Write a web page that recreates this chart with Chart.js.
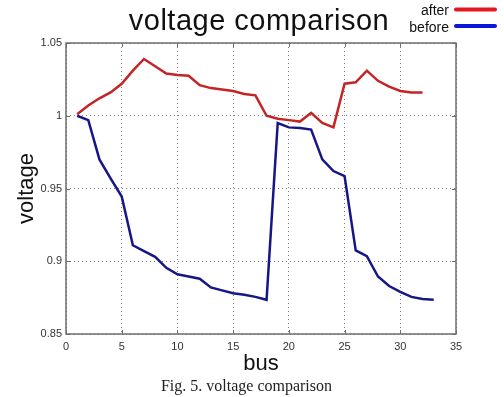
<!DOCTYPE html>
<html>
<head>
<meta charset="utf-8">
<script src="https://cdn.jsdelivr.net/npm/chart.js@4.4.0/dist/chart.umd.min.js"></script>
<style>
  body { margin: 0; background: #fff; }
  canvas { display: block; }
</style>
</head>
<body>
<canvas id="chart" width="504" height="397"></canvas>
<script>
// bus numbers and voltages
var busNumbers = [1, 2, 3, 4, 5, 6, 7, 8, 9, 10, 11, 12, 13, 14, 15, 16, 17,
  18, 19, 20, 21, 22, 23, 24, 25, 26, 27, 28, 29, 30, 31, 32, 33];
var voltageAfter = [1.001, 1.007, 1.012, 1.016, 1.022, 1.031, 1.039, 1.034,
  1.029, 1.028, 1.0275, 1.021, 1.019, 1.018, 1.017, 1.015, 1.014, 1.000,
  0.998, 0.997, 0.996, 1.002, 0.995, 0.992, 1.022, 1.023, 1.031, 1.024,
  1.020, 1.017, 1.016, 1.016];
var voltageBefore = [1.000, 0.997, 0.970, 0.957, 0.9445, 0.911, 0.907, 0.903,
  0.8955, 0.891, 0.8895, 0.888, 0.882, 0.880, 0.878, 0.877, 0.8755, 0.8735,
  0.995, 0.992, 0.9915, 0.9905, 0.970, 0.962, 0.9585, 0.9075, 0.9035, 0.8895,
  0.883, 0.879, 0.8755, 0.874, 0.8735];
var xTickLabels = ["0", "5", "10", "15", "20", "25", "30", "35"];
var yTickLabels = ["0.85", "0.9", "0.95", "1", "1.05"];

function toPoints(values) {
  return values.map(function (v, i) { return { x: busNumbers[i], y: v }; });
}

// box, inward tick marks, title, legend and caption (matlab look)
var decor = {
  id: "decor",
  afterDraw: function (chart) {
    var ctx = chart.ctx;
    var a = chart.chartArea;
    var xs = chart.scales.x, ys = chart.scales.y;
    ctx.save();
    ctx.strokeStyle = "#6e6e6e";
    ctx.lineWidth = 1.5;
    ctx.strokeRect(a.left, a.top, a.right - a.left, a.bottom - a.top);
    ctx.lineWidth = 1;
    ctx.beginPath();
    xs.ticks.forEach(function (t) {
      var px = Math.round(xs.getPixelForValue(t.value)) + 0.5;
      ctx.moveTo(px, a.top); ctx.lineTo(px, a.top + 4);
      ctx.moveTo(px, a.bottom); ctx.lineTo(px, a.bottom - 4);
    });
    ys.ticks.forEach(function (t) {
      var py = Math.round(ys.getPixelForValue(t.value)) + 0.5;
      ctx.moveTo(a.left, py); ctx.lineTo(a.left + 4, py);
      ctx.moveTo(a.right, py); ctx.lineTo(a.right - 4, py);
    });
    ctx.stroke();

    // title
    ctx.fillStyle = "#111";
    ctx.font = "29px 'Liberation Sans', Arial, sans-serif";
    ctx.letterSpacing = "0.5px";
    ctx.textAlign = "center";
    ctx.textBaseline = "alphabetic";
    ctx.fillText("voltage comparison", 259, 30);
    ctx.letterSpacing = "0px";

    // legend
    ctx.font = "14px 'Liberation Sans', Arial, sans-serif";
    ctx.textAlign = "right";
    var legendY = [9.5, 26];
    chart.data.datasets.forEach(function (ds, i) {
      ctx.fillStyle = "#111";
      ctx.fillText(ds.label, 449, legendY[i] + 5.5);
      ctx.strokeStyle = ds.legendColor;
      ctx.lineWidth = 4;
      ctx.lineCap = "round";
      ctx.beginPath();
      ctx.moveTo(456, legendY[i]);
      ctx.lineTo(495, legendY[i]);
      ctx.stroke();
    });

    // caption
    ctx.fillStyle = "#222";
    ctx.font = "16px 'Liberation Serif', 'Times New Roman', serif";
    ctx.textAlign = "center";
    ctx.fillText("Fig. 5. voltage comparison", 246.5, 391);
    ctx.restore();
  }
};

var ctx = document.getElementById("chart").getContext("2d");
var chart = new Chart(ctx, {
  type: "line",
  data: {
    datasets: [
      {
        label: "after",
        data: toPoints(voltageAfter),
        borderColor: "rgb(196, 36, 36)",
        legendColor: "rgb(228, 22, 32)",
        borderWidth: 2.5,
        pointRadius: 0,
        tension: 0,
        fill: false
      },
      {
        label: "before",
        data: toPoints(voltageBefore),
        borderColor: "rgb(22, 22, 135)",
        legendColor: "rgb(12, 22, 215)",
        borderWidth: 2.5,
        pointRadius: 0,
        tension: 0,
        fill: false
      }
    ]
  },
  options: {
    responsive: false,
    animation: false,
    layout: { padding: { top: 43, right: 48, bottom: 20, left: 0 } },
    plugins: {
      legend: { display: false },
      title: { display: false },
      tooltip: { enabled: false }
    },
    scales: {
      x: {
        type: "linear",
        min: 0,
        max: 35,
        afterFit: function (scale) { scale.height = 43; },
        afterBuildTicks: function (scale) {
          scale.ticks = xTickLabels.map(function (l) { return { value: Number(l) }; });
        },
        ticks: {
          autoSkip: false,
          maxRotation: 0,
          padding: 6,
          color: "#333",
          font: { family: "'Liberation Sans', Arial, sans-serif", size: 11 },
          callback: function (v, i) { return xTickLabels[i]; }
        },
        grid: {
          drawTicks: false,
          color: "rgba(40, 40, 40, 0.6)",
          lineWidth: 1
        },
        border: { display: false, dash: [1, 3] },
        title: {
          display: true,
          text: "bus",
          color: "#111",
          padding: 0,
          font: { family: "'Liberation Sans', Arial, sans-serif", size: 22 }
        }
      },
      y: {
        type: "linear",
        min: 0.85,
        max: 1.05,
        afterFit: function (scale) { scale.width = 66; },
        afterBuildTicks: function (scale) {
          scale.ticks = yTickLabels.map(function (l) { return { value: Number(l) }; });
        },
        ticks: {
          padding: 4,
          color: "#333",
          font: { family: "'Liberation Sans', Arial, sans-serif", size: 11 },
          callback: function (v, i) { return yTickLabels[i]; }
        },
        grid: {
          drawTicks: false,
          color: "rgba(40, 40, 40, 0.6)",
          lineWidth: 1
        },
        border: { display: false, dash: [1, 3] },
        title: {
          display: true,
          text: "voltage",
          color: "#111",
          padding: { top: 14, bottom: 0 },
          font: { family: "'Liberation Sans', Arial, sans-serif", size: 22 }
        }
      }
    }
  },
  plugins: [decor]
});
</script>
</body>
</html>
